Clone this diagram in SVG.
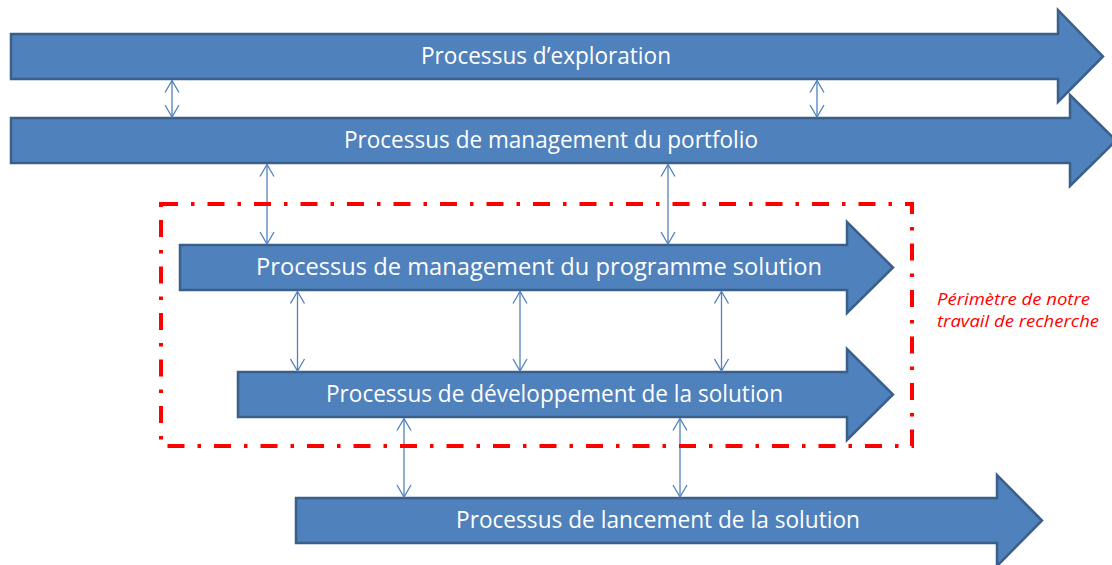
<svg xmlns="http://www.w3.org/2000/svg" width="1112" height="565" viewBox="0 0 1112 565">
<style>
.arrow{fill:#4F81BD;stroke:#3A5F8B;stroke-width:2.5;stroke-linejoin:miter}
.lbl{font-family:"Open Sans","Liberation Sans",sans-serif;font-size:23px;fill:#FFFFFF;text-anchor:middle}
.conn{stroke:#4F81BD;stroke-width:1.3;fill:none;marker-start:url(#ah);marker-end:url(#ah)}
.scope{fill:none;stroke:#FF0000;stroke-width:4;stroke-dasharray:17 13 3.5 13}
.note{font-family:"Open Sans","Liberation Sans",sans-serif;font-style:italic;font-size:17px;fill:#FF0000}
</style>
<defs>
<marker id="ah" viewBox="-13 -8 14 16" refX="0" refY="0" markerWidth="14" markerHeight="16" markerUnits="userSpaceOnUse" orient="auto-start-reverse">
<path d="M-12,-7 L0,0 L-12,7" fill="none" stroke="#4F81BD" stroke-width="1.3"/>
</marker>
</defs>
<g id="n1">
<polygon class="arrow" points="11,34 1058,34 1058,10 1103,56.5 1058,102 1058,79 11,79"/>
<text class="lbl" x="546" y="64" textLength="250" lengthAdjust="spacingAndGlyphs">Processus d’exploration</text>
</g>
<g id="n2">
<polygon class="arrow" points="11,118 1070,118 1070,95 1116,140.5 1070,186 1070,163 11,163"/>
<text class="lbl" x="551" y="148" textLength="414" lengthAdjust="spacingAndGlyphs">Processus de management du portfolio</text>
</g>
<g id="n3">
<polygon class="arrow" points="180,245 847,245 847,222 893,267.5 847,313 847,290 180,290"/>
<text class="lbl" x="539" y="275" textLength="566" lengthAdjust="spacingAndGlyphs">Processus de management du programme solution</text>
</g>
<g id="n4">
<polygon class="arrow" points="238,372 847,372 847,349 893,394.5 847,440 847,417 238,417"/>
<text class="lbl" x="554.5" y="402" textLength="457" lengthAdjust="spacingAndGlyphs">Processus de développement de la solution</text>
</g>
<g id="n5">
<polygon class="arrow" points="296,498 997,498 997,475 1042,520.5 997,566 997,543 296,543"/>
<text class="lbl" x="658" y="528" textLength="404" lengthAdjust="spacingAndGlyphs">Processus de lancement de la solution</text>
</g>
<g id="connectors">
<line class="conn" x1="172" y1="80.5" x2="172" y2="117"/>
<line class="conn" x1="817" y1="80.5" x2="817" y2="117"/>
<line class="conn" x1="267" y1="164.5" x2="267" y2="244"/>
<line class="conn" x1="668" y1="164.5" x2="668" y2="244"/>
<line class="conn" x1="297.5" y1="291.5" x2="297.5" y2="371"/>
<line class="conn" x1="520" y1="291.5" x2="520" y2="371"/>
<line class="conn" x1="721.5" y1="291.5" x2="721.5" y2="371"/>
<line class="conn" x1="404" y1="418.5" x2="404" y2="497"/>
<line class="conn" x1="680" y1="418.5" x2="680" y2="497"/>
</g>
<g id="scope">
<rect class="scope" x="161" y="204" width="751" height="242"/>
<text class="note" x="937" y="305" textLength="153" lengthAdjust="spacingAndGlyphs">Périmètre de notre</text>
<text class="note" x="937" y="327" textLength="162" lengthAdjust="spacingAndGlyphs">travail de recherche</text>
</g>
</svg>
